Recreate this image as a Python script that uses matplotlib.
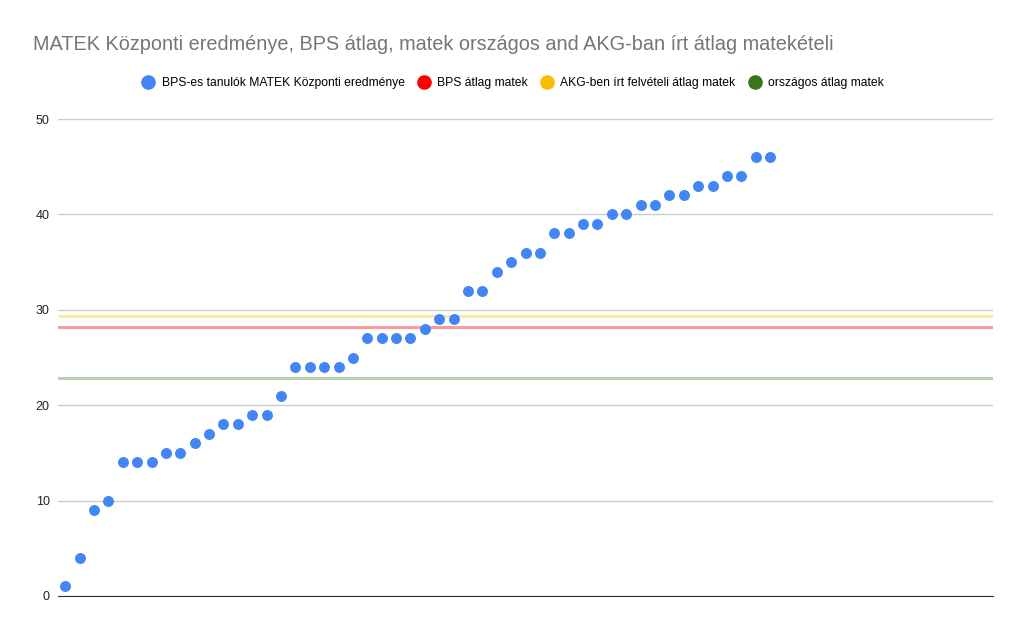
import numpy as np
import matplotlib.pyplot as plt
from matplotlib.lines import Line2D

plt.rcParams['font.family'] = ['Liberation Sans', 'DejaVu Sans']

# -----------------------------
# Data
# -----------------------------
scores = [1, 4, 9, 10, 14, 14, 14, 15, 15, 16, 17, 18, 18, 19, 19, 21,
          24, 24, 24, 24, 25, 27, 27, 27, 27, 28, 29, 29, 32, 32, 34, 35,
          36, 36, 38, 38, 39, 39, 40, 40, 41, 41, 42, 42, 43, 43, 44, 44,
          46, 46]
n_rows = 65          # sheet rows incl. empty ones
bps_avg = 28.2
akg_avg = 29.4
national_avg = 22.9

labels = ['BPS-es tanulók MATEK Központi eredménye', 'BPS átlag matek',
          'AKG-ben írt felvételi átlag matek', 'országos átlag matek']
colors = ['#4285f4', '#ff0000', '#fbbc04', '#38761d']
yticks = [0, 10, 20, 30, 40, 50]

# -----------------------------
# Plot
# -----------------------------
fig = plt.figure(figsize=(10.25, 6.35), dpi=100)
ax = fig.add_axes([58/1025, 1 - 596/635, (993 - 58)/1025, (596 - 119)/635])

ax.axhline(akg_avg, color=colors[2], alpha=0.35, lw=2.2, zorder=2)
ax.axhline(bps_avg, color=colors[1], alpha=0.4, lw=2.2, zorder=2)
ax.axhline(national_avg, color=colors[3], alpha=0.35, lw=2.2, zorder=2)

x = np.arange(len(scores))
ax.scatter(x, scores, s=62, color=colors[0], zorder=3, linewidths=0)

ax.set_xlim(-0.5, n_rows - 0.5)
ax.set_ylim(0, 50)
ax.set_yticks(yticks)
ax.set_xticks([])
ax.grid(axis='y', color='#cccccc', lw=1)
ax.set_axisbelow(True)
for s in ['top', 'right', 'left']:
    ax.spines[s].set_visible(False)
ax.spines['bottom'].set_color('#333333')
ax.tick_params(axis='y', length=0, pad=6, labelsize=9, labelcolor='#222222')

fig.text(33/1025, 1 - 44/635, 'MATEK Központi eredménye, BPS átlag, matek országos and AKG-ban írt átlag matekételi',
         fontsize=14.3, color='#757575', va='center', ha='left')

handles = [Line2D([], [], ls='none', marker='o', markersize=9.5, color=c) for c in colors]
fig.legend(handles, labels, loc='center', bbox_to_anchor=(0.5, 1 - 83/635), ncol=4,
           frameon=False, fontsize=8.7, handletextpad=0.5, columnspacing=1.0,
           handlelength=1.2)

fig.savefig('out.png', dpi=100)
